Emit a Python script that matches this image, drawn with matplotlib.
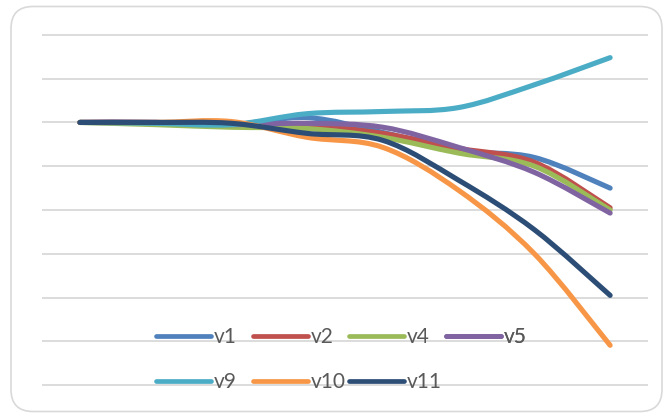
import numpy as np
import matplotlib
matplotlib.use("Agg")
import matplotlib.pyplot as plt
from matplotlib.path import Path
from matplotlib.patches import PathPatch, FancyBboxPatch
from matplotlib.lines import Line2D

# категорії (8 точок) та значення серій
categories = list(range(8))
series_names = ["v1", "v2", "v4", "v5", "v9", "v10", "v11"]
v1 = [1.0, 1.0, 0.995, 1.011, 0.977, 0.936, 0.920, 0.850]
v2 = [1.0, 1.0, 0.995, 0.993, 0.975, 0.941, 0.909, 0.805]
v4 = [1.0, 0.995, 0.989, 0.986, 0.966, 0.930, 0.900, 0.800]
v5 = [1.0, 1.0, 0.995, 0.998, 0.989, 0.943, 0.886, 0.793]
v9 = [1.0, 0.998, 0.995, 1.020, 1.025, 1.034, 1.086, 1.148]
v10 = [1.0, 1.0, 1.002, 0.966, 0.943, 0.845, 0.700, 0.491]
v11 = [1.0, 1.0, 0.998, 0.975, 0.959, 0.868, 0.755, 0.605]
colors = ["#4F81BD", "#C0504D", "#9BBB59", "#8064A2", "#4BACC6", "#F79646", "#2C4D75"]


def smooth_path(xs, ys):
    """Згладжена лінія як в Excel: кубічні Безьє з контрольними точками Catmull-Rom"""
    pts = np.column_stack([xs, ys]).astype(float)
    n = len(pts)
    verts = [pts[0]]
    codes = [Path.MOVETO]
    for i in range(n - 1):
        p0 = pts[i - 1] if i > 0 else pts[i]
        p1 = pts[i]
        p2 = pts[i + 1]
        p3 = pts[i + 2] if i + 2 < n else pts[i + 1]
        c1 = p1 + (p2 - p0) / 6.0
        c2 = p2 - (p3 - p1) / 6.0
        verts += [c1, c2, p2]
        codes += [Path.CURVE4] * 3
    return Path(verts, codes)


fig = plt.figure(figsize=(6.64, 4.13), dpi=100)
W, H = 664, 413

# рамка з заокругленими кутами (в дюймах)
border = FancyBboxPatch((0.11, 0.015), 6.51, 4.05,
                        boxstyle="round,pad=0,rounding_size=0.22",
                        transform=fig.dpi_scale_trans, facecolor="none",
                        edgecolor="#D9D9D9", linewidth=1.2, zorder=0)
fig.patches.append(border)

ax = fig.add_axes([42 / W, (H - 386) / H, 606 / W, 352 / H])
ax.set_facecolor("none")
ax.set_xlim(-0.5, 7.5)
ax.set_ylim(0.398, 1.202)
ax.set_yticks(np.arange(0.4, 1.21, 0.1))
ax.set_xticks([])
ax.tick_params(left=False, labelleft=False)
for s in ax.spines.values():
    s.set_visible(False)
ax.grid(axis="y", color="#D9D9D9", linewidth=1.3)
ax.set_axisbelow(True)

data = [v1, v2, v4, v5, v9, v10, v11]
handles = []
for name, vals, c in zip(series_names, data, colors):
    patch = PathPatch(smooth_path(categories, vals), facecolor="none", edgecolor=c,
                      linewidth=3.7, capstyle="round", joinstyle="round", zorder=3)
    ax.add_patch(patch)
    handles.append(Line2D([], [], color=c, linewidth=3.4, solid_capstyle="round"))

# легенда: 4 колонки однакової ширини, заповнення по рядках
col_x = [156, 253, 349, 446]
columns = [[0, 4], [1, 5], [2, 6], [3]]
for cx, idx in zip(col_x, columns):
    leg = ax.legend([handles[i] for i in idx], [series_names[i] for i in idx],
                    loc="upper left", bbox_to_anchor=(cx / W, 1 - 327 / H),
                    bbox_transform=fig.transFigure, frameon=False, borderpad=0,
                    borderaxespad=0, handlelength=2.65, handletextpad=0.1,
                    labelspacing=1.2, labelcolor="#595959",
                    prop={"family": "Lato", "size": 15})
    ax.add_artist(leg)

fig.savefig("out.png", dpi=100)
